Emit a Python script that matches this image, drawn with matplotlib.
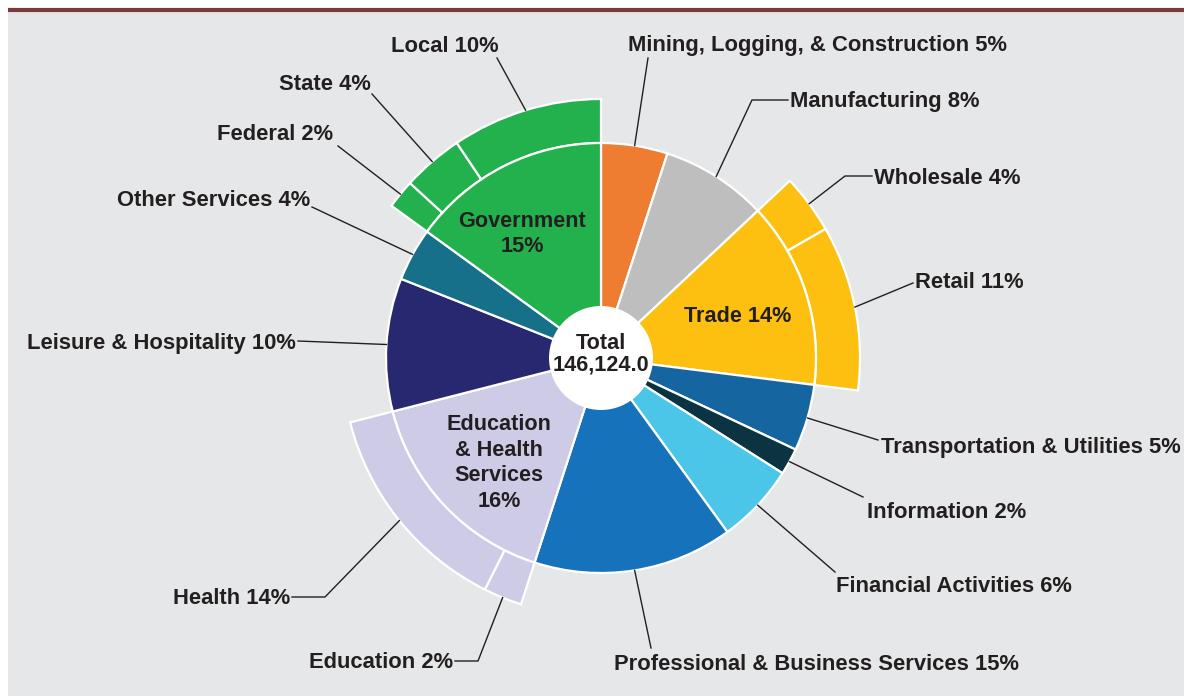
import numpy as np
import matplotlib.pyplot as plt
from matplotlib.patches import Rectangle, Circle

# ---- data (share of total nonfarm employment, %) ----
sectors = ["Mining, Logging, & Construction", "Manufacturing", "Trade",
           "Transportation & Utilities", "Information", "Financial Activities",
           "Professional & Business Services", "Education & Health Services",
           "Leisure & Hospitality", "Other Services", "Government"]
shares = [5, 8, 14, 5, 2, 6, 15, 16, 10, 4, 15]
colors = ["#ee7d31", "#bebebe", "#fdc010", "#1565a0", "#0c3341", "#4cc6e8",
          "#1572bb", "#cdcbe6", "#27286f", "#17708a", "#22b14d"]

# sub-sectors (outer ring), estimated shares and printed labels
sub_parent = {"Trade": [("Wholesale", 3.7, "4%"), ("Retail", 10.3, "11%")],
              "Education & Health Services": [("Education", 2.4, "2%"), ("Health", 13.6, "14%")],
              "Government": [("Federal", 1.8, "2%"), ("State", 3.8, "4%"), ("Local", 9.4, "10%")]}
total_label = "146,124.0"

W, H = 1184, 696
CX, CY = 601, 358          # pie centre in image pixels
R_IN, R_OUT, R_HOLE = 215, 259, 52
TXT = "#231f20"
FONT = "Liberation Sans"
FS_OUT, FS_IN = 15.8, 15.6
DY = 2                     # small downward nudge for text


def P(x, y):
    # image pixel coords -> data coords
    return x, H - y


fig = plt.figure(figsize=(W / 100, H / 100), dpi=100)
ax = fig.add_axes([0, 0, 1, 1])

# background panel and top rule
ax.add_patch(Rectangle(P(8, H), W - 8, H - 11, facecolor="#e6e7e8", edgecolor="none", zorder=0))
ax.plot([8, W], [H - 9.5, H - 9.5], color="#7a3b40", lw=3, zorder=1, solid_capstyle="butt")

center = P(CX, CY)
wp = dict(edgecolor="white", linewidth=1.6)

# outer ring: sub-sectors, gaps for sectors without a breakdown
outer_vals, outer_cols, outer_vis = [], [], []
for s, v, c in zip(sectors, shares, colors):
    if s in sub_parent:
        for name, sv, lab in sub_parent[s]:
            outer_vals.append(sv); outer_cols.append(c); outer_vis.append(True)
    else:
        outer_vals.append(v); outer_cols.append("none"); outer_vis.append(False)

outer_w, _ = ax.pie(outer_vals, radius=R_OUT, center=center, startangle=90,
                    counterclock=False, colors=outer_cols, frame=True,
                    wedgeprops=dict(width=R_OUT - R_IN, **wp))
for w, vis in zip(outer_w, outer_vis):
    w.set_visible(vis)

inner_w, _ = ax.pie(shares, radius=R_IN, center=center, startangle=90,
                    counterclock=False, colors=colors, frame=True, wedgeprops=wp)
ax.add_patch(Circle(center, R_HOLE, facecolor="white", edgecolor="none", zorder=5))


def mid_point(wedge, r):
    a = np.deg2rad((wedge.theta1 + wedge.theta2) / 2)
    return CX + r * np.cos(a), CY - r * np.sin(a)


# find wedges by name
anchor = {}
for s, w in zip(sectors, inner_w):
    anchor[s] = mid_point(w, R_IN)
k = 0
for s, v in zip(sectors, shares):
    if s in sub_parent:
        for name, sv, lab in sub_parent[s]:
            anchor[name] = mid_point(outer_w[k], R_OUT)
            k += 1
    else:
        k += 1

pct = dict(zip(sectors, [f"{v}%" for v in shares]))
for s in sub_parent:
    for name, sv, lab in sub_parent[s]:
        pct[name] = lab

# (key, text x, text y, ha, leader points from text to wedge)
labels = [
    ("Local", 445, 44, "center", [(497, 58)]),
    ("State", 325, 82, "center", [(372, 94)]),
    ("Federal", 275, 133, "center", [(338, 146)]),
    ("Other Services", 310, 199, "right", [(312, 207)]),
    ("Leisure & Hospitality", 296, 341, "right", [(298, 341)]),
    ("Health", 290, 597, "right", [(292, 597), (325, 597)]),
    ("Education", 453, 661, "right", [(455, 661), (478, 661)]),
    ("Professional & Business Services", 816, 662, "center", [(651, 648)]),
    ("Financial Activities", 954, 584, "center", [(835, 572)]),
    ("Information", 947, 510, "center", [(863, 497)]),
    ("Transportation & Utilities", 881, 445, "left", [(878, 440)]),
    ("Retail", 915, 281, "left", [(913, 283)]),
    ("Wholesale", 874, 176, "left", [(872, 176), (845, 176)]),
    ("Manufacturing", 790, 100, "left", [(788, 100), (752, 100)]),
    ("Mining, Logging, & Construction", 628, 44, "left", [(648, 58)]),
]
for key, tx, ty, ha, pts in labels:
    ax.text(*P(tx, ty + DY), f"{key} {pct[key]}", ha=ha, va="center", fontsize=FS_OUT,
            fontweight="bold", color=TXT, family=FONT, zorder=6)
    path = pts + [anchor[key]]
    ax.plot([p[0] for p in path], [H - p[1] for p in path], color=TXT, lw=1, zorder=4)

# labels inside the pie
ax.text(*P(522, 232 + DY), "Government\n15%", ha="center", va="center", fontsize=FS_IN,
        fontweight="bold", color=TXT, family=FONT, linespacing=1.25, zorder=6)
ax.text(*P(738, 315 + DY), "Trade 14%", ha="center", va="center", fontsize=FS_IN,
        fontweight="bold", color=TXT, family=FONT, zorder=6)
ax.text(*P(499, 461 + DY), "Education\n& Health\nServices\n16%", ha="center", va="center",
        fontsize=FS_IN, fontweight="bold", color=TXT, family=FONT, linespacing=1.3, zorder=6)
ax.text(*P(601, 352 + DY), "Total\n" + total_label, ha="center", va="center", fontsize=FS_IN,
        fontweight="bold", color=TXT, family=FONT, linespacing=1.0, zorder=6)

ax.set_xlim(0, W)
ax.set_ylim(0, H)
ax.set_aspect("equal")
ax.axis("off")
fig.savefig("out.png", dpi=100, facecolor="white")
